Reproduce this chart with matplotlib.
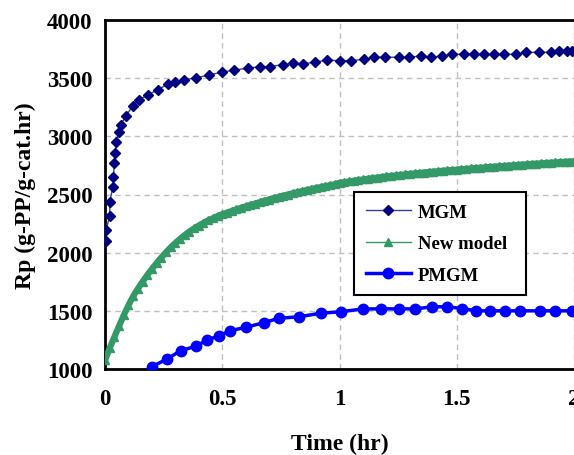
import matplotlib
matplotlib.use("Agg")
import matplotlib.pyplot as plt

plt.rcParams['font.family'] = ['Liberation Serif', 'DejaVu Serif']
plt.rcParams['font.weight'] = 'bold'

# MGM series
mgm_t = [0.006, 0.005, 0.020, 0.021, 0.033, 0.036, 0.040, 0.043, 0.048, 0.060, 0.068,
         0.089, 0.118, 0.146, 0.183, 0.226, 0.267, 0.297, 0.338, 0.388, 0.444, 0.497,
         0.551, 0.608, 0.660, 0.703, 0.757, 0.802, 0.845, 0.895, 0.947, 1.001, 1.051,
         1.105, 1.147, 1.196, 1.254, 1.297, 1.346, 1.389, 1.439, 1.481, 1.531, 1.573,
         1.616, 1.659, 1.701, 1.751, 1.794, 1.850, 1.900, 1.936, 1.971, 1.993]
mgm_rp = [2104, 2198, 2319, 2439, 2563, 2654, 2769, 2857, 2949, 3035, 3098,
          3178, 3259, 3316, 3356, 3401, 3448, 3465, 3487, 3502, 3528, 3551,
          3570, 3585, 3599, 3599, 3616, 3628, 3622, 3639, 3654, 3651, 3651,
          3662, 3680, 3680, 3680, 3680, 3691, 3680, 3691, 3705, 3705, 3705,
          3705, 3705, 3705, 3705, 3722, 3722, 3722, 3731, 3731, 3731]

# New model series (dense)
new_t = [0.00, 0.02, 0.04, 0.06, 0.08, 0.10, 0.12, 0.14, 0.16, 0.18,
         0.20, 0.22, 0.24, 0.26, 0.28, 0.30, 0.32, 0.34, 0.36, 0.38,
         0.40, 0.42, 0.44, 0.46, 0.48, 0.50, 0.52, 0.54, 0.56, 0.58,
         0.60, 0.62, 0.64, 0.66, 0.68, 0.70, 0.72, 0.74, 0.76, 0.78,
         0.80, 0.82, 0.84, 0.86, 0.88, 0.90, 0.92, 0.94, 0.96, 0.98,
         1.00, 1.02, 1.04, 1.06, 1.08, 1.10, 1.12, 1.14, 1.16, 1.18,
         1.20, 1.22, 1.24, 1.26, 1.28, 1.30, 1.32, 1.34, 1.36, 1.38,
         1.40, 1.42, 1.44, 1.46, 1.48, 1.50, 1.52, 1.54, 1.56, 1.58,
         1.60, 1.62, 1.64, 1.66, 1.68, 1.70, 1.72, 1.74, 1.76, 1.78,
         1.80, 1.82, 1.84, 1.86, 1.88, 1.90, 1.92, 1.94, 1.96, 1.98, 2.00]
new_rp = [1075, 1180, 1275, 1370, 1462, 1548, 1625, 1690, 1750, 1807,
          1860, 1910, 1958, 2003, 2045, 2083, 2118, 2151, 2181, 2208,
          2233, 2256, 2277, 2296, 2314, 2330, 2344, 2358, 2372, 2385,
          2398, 2410, 2422, 2434, 2446, 2457, 2468, 2479, 2490, 2500,
          2510, 2520, 2529, 2538, 2547, 2556, 2564, 2572, 2580, 2588,
          2600, 2606, 2612, 2618, 2624, 2629, 2635, 2640, 2645, 2650,
          2655, 2660, 2664, 2669, 2673, 2677, 2681, 2685, 2689, 2693,
          2697, 2700, 2704, 2707, 2710, 2714, 2717, 2720, 2724, 2727,
          2730, 2733, 2736, 2739, 2742, 2745, 2748, 2751, 2754, 2757,
          2760, 2763, 2765, 2768, 2771, 2773, 2776, 2778, 2781, 2783, 2786]

# PMGM series
pmgm_t = [0.200, 0.265, 0.322, 0.386, 0.436, 0.486, 0.533, 0.600, 0.677, 0.741,
          0.827, 0.919, 1.008, 1.100, 1.175, 1.253, 1.324, 1.395, 1.459, 1.523,
          1.584, 1.643, 1.707, 1.771, 1.856, 1.920, 1.991]
pmgm_rp = [1020, 1086, 1157, 1195, 1249, 1286, 1329, 1358, 1398, 1436,
           1449, 1479, 1493, 1516, 1517, 1517, 1517, 1535, 1535, 1520,
           1500, 1500, 1500, 1500, 1500, 1500, 1500]

x_ticks = [0, 0.5, 1, 1.5, 2]
x_ticklabels = ['0', '0.5', '1', '1.5', '2']
y_ticks = [1000, 1500, 2000, 2500, 3000, 3500, 4000]

GREEN = '#339966'

fig = plt.figure(figsize=(5.74, 4.56), dpi=100)
ax = fig.add_axes([105/574, 1 - 370/456, 469/574, 349/456])

ax.plot(mgm_t, mgm_rp, color='#3a3a9a', lw=1.0, marker='D', ms=5.5,
        mfc='#000080', mec='#000080', label='MGM', zorder=3)
ax.plot(new_t, new_rp, color=GREEN, lw=4.5, solid_capstyle='butt', zorder=3)
ax.plot(new_t, new_rp, color=GREEN, lw=1.0, marker='^', ms=6,
        mfc=GREEN, mec=GREEN, label='New model', zorder=3)
ax.plot(pmgm_t, pmgm_rp, color='#0000ff', lw=2.5, marker='o', ms=7.5,
        mfc='#0000ff', mec='#0000ff', label='PMGM', zorder=3)

ax.set_xlim(0, 2)
ax.set_ylim(1000, 4000)
ax.set_xticks(x_ticks)
ax.set_xticklabels(x_ticklabels)
ax.set_yticks(y_ticks)
ax.tick_params(length=0, labelsize=16.5)
ax.tick_params(axis='y', pad=9)
ax.tick_params(axis='x', pad=14)
for lab in ax.get_xticklabels() + ax.get_yticklabels():
    lab.set_fontweight('bold')

ax.grid(True, color='#c0c0c0', linestyle=(0, (4, 3)), lw=1.0)
ax.set_axisbelow(True)
for side in ['left', 'bottom', 'top']:
    ax.spines[side].set_linewidth(2)
    ax.spines[side].set_color('black')
ax.spines['right'].set_visible(False)

ax.set_xlabel('Time (hr)', fontsize=17, fontweight='bold', labelpad=17)
ax.set_ylabel('Rp (g-PP/g-cat.hr)', fontsize=17, fontweight='bold', labelpad=8)

leg = ax.legend(loc='upper left', bbox_to_anchor=(0.531, 0.218, 0.367, 0.289),
                mode='expand', borderaxespad=0, frameon=True, fancybox=False,
                framealpha=1, edgecolor='black', handlelength=2.4,
                handletextpad=0.4, labelspacing=0.76, borderpad=0.62,
                prop={'weight': 'bold', 'size': 13.5})
leg.get_frame().set_linewidth(1.5)

fig.savefig('out.png', dpi=100)
